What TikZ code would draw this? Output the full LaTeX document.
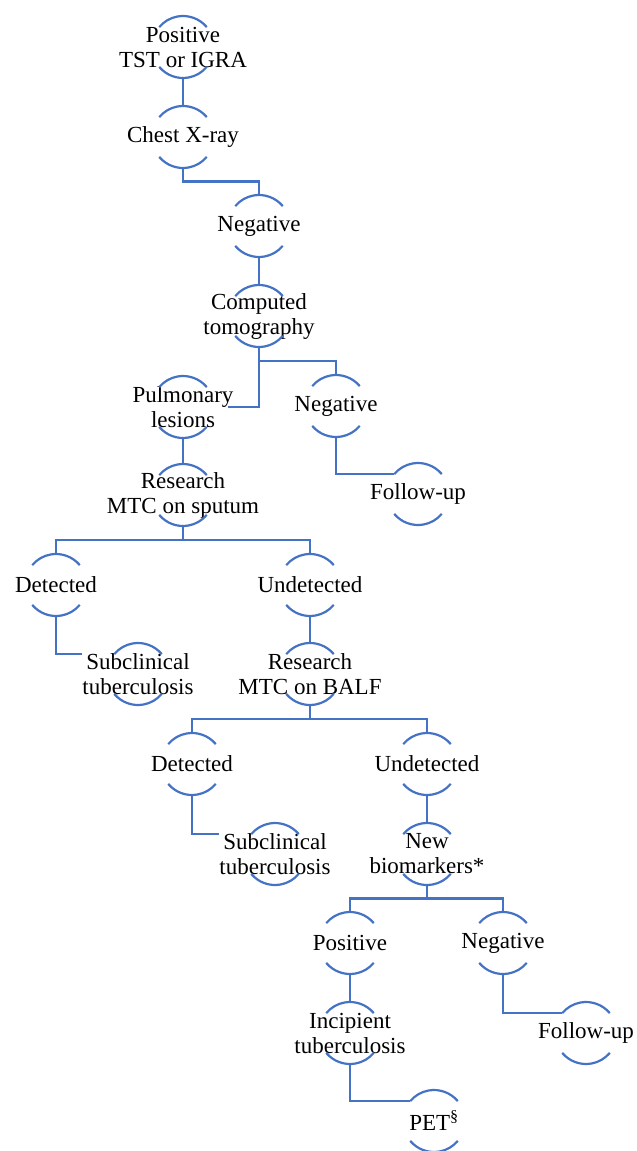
\documentclass[tikz,border=0pt]{standalone}
\usepackage{fontspec}
\setmainfont{Liberation Serif}
\usetikzlibrary{calc}
\definecolor{lineblue}{RGB}{68,114,196}
\begin{document}
\begin{tikzpicture}[x=1pt,y=1pt,
  conn/.style={draw=lineblue,line width=2.2pt},
  stage/.style={circle,minimum size=62pt,inner sep=0pt,outer sep=0pt},
  lbl/.style={align=center,font=\fontsize{23}{25}\selectfont,inner sep=0.5pt},
  hide/.style={fill=white},
  elbow/.style={to path={|- ($(\tikztostart)!0.5!(\tikztotarget)$) -| (\tikztotarget)}}]
\useasboundingbox (0,0) rectangle (637,-1151);

% stage circles (anchors only)
\node[stage] (pos)  at (183,-47) {};
\node[stage] (cxr)  at (183,-137) {};
\node[stage] (neg1) at (259,-226) {};
\node[stage] (ct)   at (259,-316) {};
\node[stage] (pl)   at (183,-407) {};
\node[stage] (neg2) at (336,-406) {};
\node[stage] (fu1)  at (418,-494) {};
\node[stage] (rms)  at (183,-495) {};
\node[stage] (det1) at (56,-585) {};
\node[stage] (und1) at (310,-585) {};
\node[stage] (sub1) at (138,-674) {};
\node[stage] (rmb)  at (310,-674) {};
\node[stage] (det2) at (192,-764) {};
\node[stage] (und2) at (427,-764) {};
\node[stage] (sub2) at (275,-854) {};
\node[stage] (nb)   at (427,-854) {};
\node[stage] (posb) at (350,-943) {};
\node[stage] (neg3) at (503,-943) {};
\node[stage] (inc)  at (350,-1033) {};
\node[stage] (fu2)  at (586,-1033) {};
\node[stage] (pet)  at (434,-1121) {};

% connectors
\draw[conn] (pos.south) -- (cxr.north);
\draw[conn] (cxr.south) to[elbow] (neg1.north);
\draw[conn] (neg1.south) -- (ct.north);
\draw[conn] (ct.south) |- ($(pl.east)+(14,0)$);
\draw[conn] (ct.south) to[elbow] (neg2.north);
\draw[conn] (neg2.south) |- (fu1.140);
\draw[conn] (pl.south) -- (rms.north);
\draw[conn] (rms.south) to[elbow] (det1.north);
\draw[conn] (rms.south) to[elbow] (und1.north);
\draw[conn] (det1.south) |- (sub1.140);
\draw[conn] (und1.south) -- (rmb.north);
\draw[conn] (rmb.south) to[elbow] (det2.north);
\draw[conn] (rmb.south) to[elbow] (und2.north);
\draw[conn] (det2.south) |- (sub2.140);
\draw[conn] (und2.south) -- (nb.north);
\draw[conn] (nb.south) to[elbow] (posb.north);
\draw[conn] (nb.south) to[elbow] (neg3.north);
\draw[conn] (neg3.south) |- (fu2.140);
\draw[conn] (posb.south) -- (inc.north);
\draw[conn] (inc.south) |- (pet.140);

% texts
\node[lbl] (pos-t)  at (pos)  {Positive\\TST or IGRA};
\node[lbl] (cxr-t)  at (cxr)  {Chest X-ray};
\node[lbl] (neg1-t) at (neg1) {Negative};
\node[lbl] (ct-t)   at (ct)   {Computed\\tomography};
\node[lbl] (pl-t)   at (pl)   {Pulmonary\\lesions};
\node[lbl] (neg2-t) at (neg2) {Negative};
\node[lbl] (fu1-t)  at (fu1)  {Follow-up};
\node[lbl] (rms-t)  at (rms)  {Research\\MTC on sputum};
\node[lbl] (det1-t) at (det1) {Detected};
\node[lbl] (und1-t) at (und1) {Undetected};
\node[lbl,hide] (sub1-t) at (sub1) {Subclinical\\tuberculosis};
\node[lbl] (rmb-t)  at (rmb)  {Research\\MTC on BALF};
\node[lbl] (det2-t) at (det2) {Detected};
\node[lbl] (und2-t) at (und2) {Undetected};
\node[lbl,hide] (sub2-t) at (sub2) {Subclinical\\tuberculosis};
\node[lbl] (nb-t)   at (nb)   {New\\biomarkers*};
\node[lbl] (posb-t) at (posb) {Positive};
\node[lbl] (neg3-t) at (neg3) {Negative};
\node[lbl] (inc-t)  at (inc)  {Incipient\\tuberculosis};
\node[lbl] (fu2-t)  at (fu2)  {Follow-up};
\node[lbl] (pet-t)  at (pet)  {PET\textsuperscript{§}};

% arcs of each stage
\foreach \n in {pos,cxr,neg1,ct,pl,neg2,fu1,rms,det1,und1,sub1,rmb,det2,und2,sub2,nb,posb,neg3,inc,fu2,pet}{
  \draw[conn] (\n.40) arc[start angle=40,end angle=140,radius=31pt];
  \draw[conn] (\n.220) arc[start angle=220,end angle=320,radius=31pt];
}
\end{tikzpicture}
\end{document}
